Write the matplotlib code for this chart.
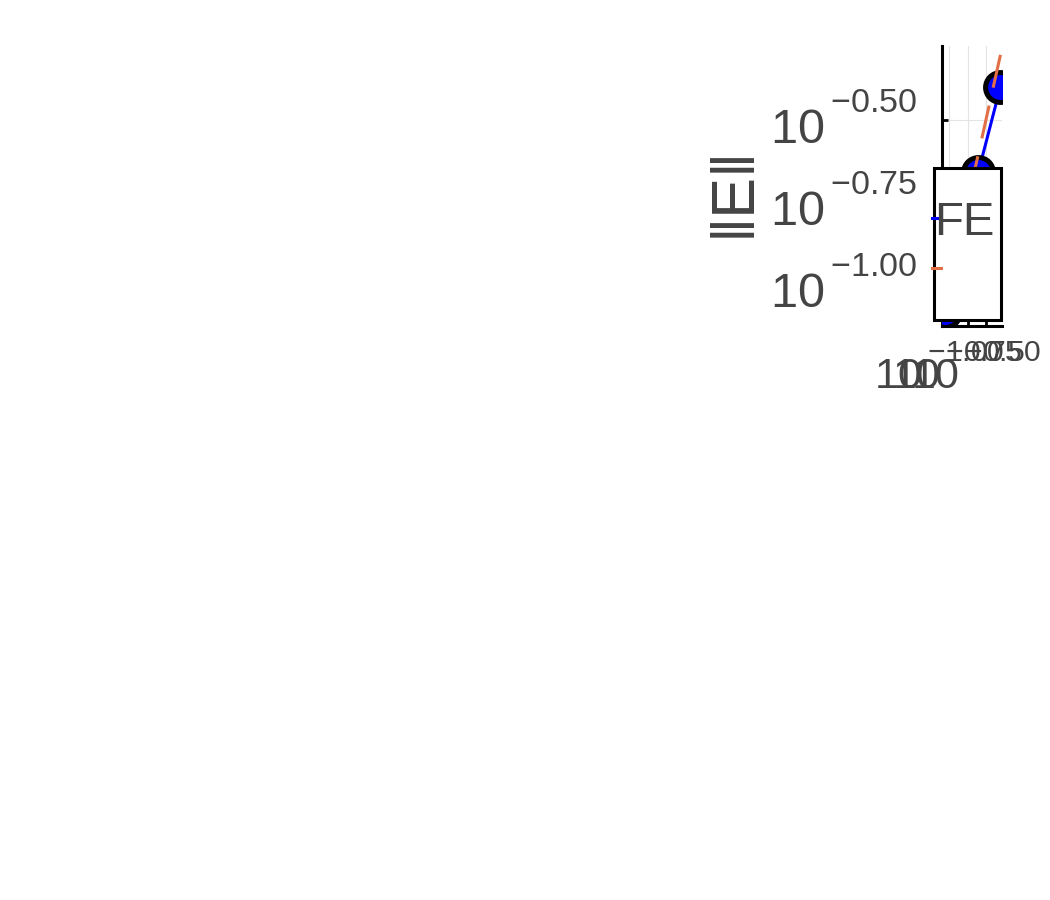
import matplotlib
matplotlib.use('Agg')
import matplotlib.pyplot as plt
import numpy as np
from matplotlib.patches import Rectangle
from matplotlib.lines import Line2D
from matplotlib.ticker import FixedLocator, FuncFormatter, NullLocator
from matplotlib.transforms import ScaledTranslation

try:
    import matplotlib._mathtext as _mt
    _mt.FontConstantsBase.sup1 = 1.18
    _mt.FontConstantsBase.delta = 0.35
except Exception:
    pass

# ---- data ----
h = [0.5, 0.25, 0.087]
err_fe = [0.40, 0.22, 0.082]
ref_line = [0.5, 0.25, 0.087]          # reference slope O(h)
tick_exps = [-1.00, -0.75, -0.50]
legend_labels = ['FE', '']
ylabel_text = '‖E‖'

plt.rcParams['font.family'] = ['Liberation Sans', 'DejaVu Sans']
plt.rcParams['mathtext.fontset'] = 'custom'
plt.rcParams['mathtext.rm'] = 'Liberation Sans'
plt.rcParams['mathtext.it'] = 'Liberation Sans:italic'
plt.rcParams['mathtext.bf'] = 'Liberation Sans:bold'

TXT = '#444444'
W, H = 1050, 900
fig = plt.figure(figsize=(10.5, 9), dpi=100)
fig.patch.set_facecolor('white')

def fx(px):
    return px / W

def fy(py):
    return 1 - py / H

ax = fig.add_axes([fx(942), fy(326), fx(1002) - fx(942), fy(46) - fy(326)])
ax.set_xscale('log')
ax.set_yscale('log')
ax.set_xlim(10 ** -1.10, 10 ** -0.28)
ax.set_ylim(10 ** -1.128, 10 ** -0.274)

ticks = [10 ** e for e in tick_exps]
fmt = FuncFormatter(lambda v, p: r'$\mathregular{10^{%.2f}}$' % np.log10(v))
for axis in (ax.xaxis, ax.yaxis):
    axis.set_major_locator(FixedLocator(ticks))
    axis.set_minor_locator(NullLocator())
    axis.set_major_formatter(fmt)

ax.grid(True, which='major', color='#e4e4e4', lw=0.8, zorder=0)
ax.set_axisbelow(True)
for s in ('top', 'right'):
    ax.spines[s].set_visible(False)
for s in ('left', 'bottom'):
    ax.spines[s].set_linewidth(2.2)
    ax.spines[s].set_color('black')

ax.tick_params(axis='both', direction='in', length=4, width=2, color='black',
               labelcolor=TXT)
ax.tick_params(axis='y', labelsize=35, pad=18)
ax.tick_params(axis='x', labelsize=31, pad=15)

# shift x tick labels slightly left, as in the reference rendering
_off = ScaledTranslation(-10 / 100, 0, fig.dpi_scale_trans)
for t in ax.xaxis.get_major_ticks():
    t.label1.set_transform(t.label1.get_transform() + _off)

ax.plot(h, err_fe, color='blue', lw=2.2, marker='o', ms=21.5, mfc='blue',
        mec='black', mew=3.6, zorder=3, label=legend_labels[0])
ax.plot(h, ref_line, color='#e26f46', lw=2.2, dashes=[11, 6], zorder=4)

ax.set_ylabel(ylabel_text, fontsize=44, color=TXT)
ax.yaxis.set_label_coords(fx(750), fy(191), transform=fig.transFigure)
ax.yaxis.label.set_verticalalignment('baseline')

# ---- legend box ----
rect = Rectangle((fx(933.5), fy(319.5)), fx(1001.5) - fx(933.5),
                 fy(168.5) - fy(319.5), transform=fig.transFigure,
                 facecolor='white', edgecolor='black', lw=2.2, zorder=5)
fig.add_artist(rect)
fig.add_artist(Line2D([fx(932), fx(939)], [fy(218), fy(218)], color='blue',
                      lw=2.2, transform=fig.transFigure, zorder=6))
fig.add_artist(Line2D([fx(932), fx(941)], [fy(268), fy(268)], color='#e26f46',
                      lw=2.2, transform=fig.transFigure, zorder=6))
fig.text(fx(934), fy(235), legend_labels[0], fontsize=34, color=TXT,
         ha='left', va='baseline', zorder=7)

fig.savefig('out.png', dpi=100, facecolor='white')
